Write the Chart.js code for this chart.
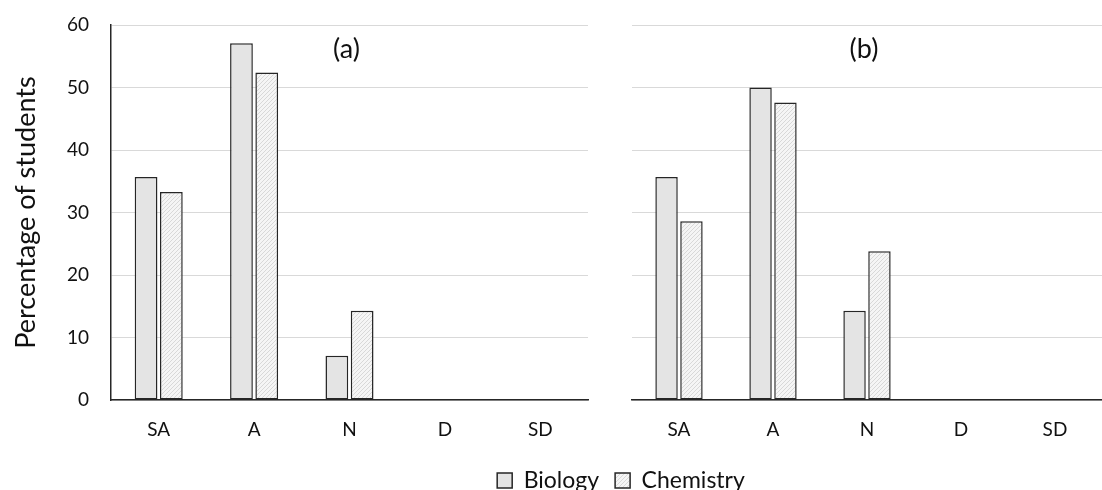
<!DOCTYPE html>
<html>
<head>
<meta charset="utf-8">
<script src="https://cdn.jsdelivr.net/npm/chart.js@4"></script>
<style>
  html, body { margin: 0; padding: 0; background: #fff; overflow: hidden; }
  #wrap { position: relative; width: 1102px; height: 490px; overflow: hidden; }
  .box { position: absolute; }
</style>
</head>
<body>
<div id="wrap">
  <div class="box" style="left:0;top:0;width:610px;height:440px"><canvas id="chartA"></canvas></div>
  <div class="box" style="left:610px;top:0;width:492px;height:440px"><canvas id="chartB"></canvas></div>
  <div class="box" style="left:140px;top:386px;width:962px;height:116px"><canvas id="legendChart"></canvas></div>
</div>
<script>
const categories = ["SA", "A", "N", "D", "SD"];
const seriesNames = ["Biology", "Chemistry"];
const biologyA = [35.7, 57.1, 7.1, 0, 0];
const chemistryA = [33.3, 52.4, 14.3, 0, 0];
const biologyB = [35.7, 50.0, 14.3, 0, 0];
const chemistryB = [28.6, 47.6, 23.8, 0, 0];
const panelTitles = ["(a)", "(b)"];
const yMax = 60;
const yStep = 10;
const yTitle = "Percentage of students";

Chart.defaults.font.family = "Lato, 'Open Sans', sans-serif";
Chart.defaults.color = "#111111";
Chart.defaults.animation = false;
Chart.defaults.responsive = true;
Chart.defaults.maintainAspectRatio = false;

const ink = "#262626";
const bioFill = "#e4e4e4";

function hatch() {
  const c = document.createElement("canvas");
  c.width = 4;
  c.height = 4;
  const g = c.getContext("2d");
  g.fillStyle = "#f5f5f5";
  g.fillRect(0, 0, 4, 4);
  g.strokeStyle = "#d8d8d8";
  g.lineWidth = 1;
  g.beginPath();
  g.moveTo(-1, 5); g.lineTo(5, -1);
  g.moveTo(-1, 1); g.lineTo(1, -1);
  g.moveTo(3, 5); g.lineTo(5, 3);
  g.stroke();
  return g.createPattern(c, "repeat");
}
const chemFill = hatch();

function makeDatasets(bio, chem) {
  return [
    {
      label: seriesNames[0],
      data: bio,
      backgroundColor: bioFill,
      borderColor: ink,
      borderWidth: 1.5,
      borderSkipped: false,
      barPercentage: 0.9,
      categoryPercentage: 0.53,
    },
    {
      label: seriesNames[1],
      data: chem,
      backgroundColor: chemFill,
      borderColor: ink,
      borderWidth: 1.5,
      borderSkipped: false,
      barPercentage: 0.9,
      categoryPercentage: 0.53,
    },
  ];
}

// draws the (a)/(b) label inside the top of the plot area
const panelLabel = {
  id: "panelLabel",
  afterDatasetsDraw(chart, args, opts) {
    const { ctx, chartArea } = chart;
    ctx.save();
    ctx.font = "27px Lato, sans-serif";
    ctx.fillStyle = "#111111";
    ctx.textAlign = "center";
    ctx.textBaseline = "middle";
    ctx.fillText(opts.text, (chartArea.left + chartArea.right) / 2 - 3, chartArea.top + 24);
    ctx.restore();
  },
};

function xScale() {
  return {
    grid: { display: false },
    border: { display: true, color: ink, width: 1.5 },
    ticks: { font: { size: 19 }, padding: 10 },
    afterFit: (axis) => { axis.height = 40; },
  };
}

function drawPanel(id, bio, chem, title, showAxis) {
  new Chart(document.getElementById(id), {
    type: "bar",
    data: { labels: categories, datasets: makeDatasets(bio, chem) },
    options: {
      layout: { padding: { top: 25, left: showAxis ? 0 : 22, right: showAxis ? 22 : 0, bottom: 0 } },
      plugins: {
        legend: { display: false },
        tooltip: { enabled: false },
        panelLabel: { text: title },
      },
      scales: {
        x: xScale(),
        y: {
          min: 0,
          max: yMax,
          ticks: { stepSize: yStep, display: showAxis, font: { size: 19 }, padding: 6 },
          grid: { color: "#d9d9d9", lineWidth: 1, drawTicks: true, tickLength: 16, tickColor: "transparent" },
          border: { display: showAxis, color: ink, width: 1.5 },
          title: {
            display: showAxis,
            text: yTitle,
            font: { size: 27 },
            padding: { top: 10, bottom: 0 },
          },
          afterFit: (axis) => { axis.width = showAxis ? 111 : 0; },
        },
      },
    },
    plugins: [panelLabel],
  });
}

drawPanel("chartA", biologyA, chemistryA, panelTitles[0], true);
drawPanel("chartB", biologyB, chemistryB, panelTitles[1], false);

// shared legend underneath both panels
new Chart(document.getElementById("legendChart"), {
  type: "bar",
  data: { labels: [], datasets: makeDatasets([], []) },
  options: {
    layout: { padding: 0 },
    plugins: {
      legend: {
        display: true,
        position: "bottom",
        labels: { boxWidth: 15, boxHeight: 15, font: { size: 23 }, padding: 16 },
      },
      tooltip: { enabled: false },
    },
    scales: { x: { display: false }, y: { display: false } },
  },
});
</script>
</body>
</html>
